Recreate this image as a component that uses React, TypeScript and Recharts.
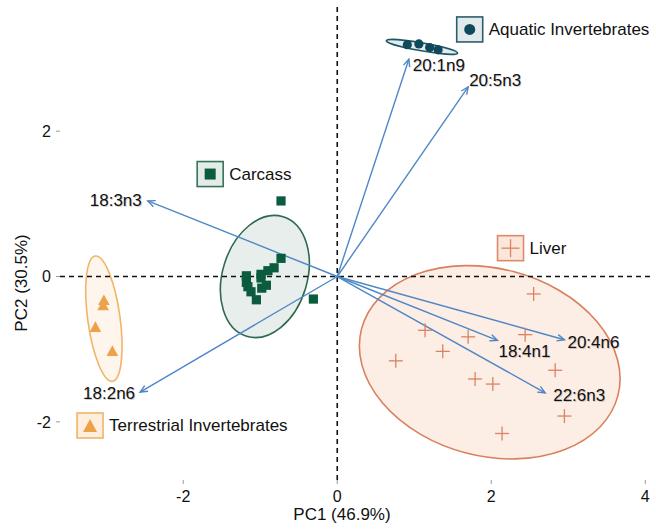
import React from 'react';
import { ScatterChart, Scatter, XAxis, YAxis, ReferenceLine, ReferenceDot } from 'recharts';

// ---------- data ----------
const xTicks = [-2, 0, 2, 4];
const yTicks = [-2, 0, 2];
const xTitle = 'PC1 (46.9%)';
const yTitle = 'PC2 (30.5%)';

const aquatic = [
  { x: 0.91, y: 3.19 },
  { x: 1.06, y: 3.2 },
  { x: 1.2, y: 3.15 },
  { x: 1.31, y: 3.12 },
];

const carcass = [
  { x: -0.73, y: 1.04 },
  { x: -0.73, y: 0.25 },
  { x: -0.82, y: 0.12 },
  { x: -0.9, y: 0.08 },
  { x: -0.99, y: 0.03 },
  { x: -0.99, y: -0.02 },
  { x: -1.18, y: 0.01 },
  { x: -1.18, y: -0.08 },
  { x: -1.16, y: -0.14 },
  { x: -1.12, y: -0.21 },
  { x: -1.05, y: -0.32 },
  { x: -0.98, y: -0.16 },
  { x: -0.92, y: -0.12 },
  { x: -0.31, y: -0.31 },
];

const liver = [
  { x: 2.55, y: -0.24 },
  { x: 1.14, y: -0.74 },
  { x: 1.7, y: -0.83 },
  { x: 2.44, y: -0.8 },
  { x: 1.37, y: -1.03 },
  { x: 0.76, y: -1.16 },
  { x: 2.83, y: -1.29 },
  { x: 1.79, y: -1.41 },
  { x: 2.02, y: -1.48 },
  { x: 2.95, y: -1.92 },
  { x: 2.14, y: -2.16 },
];

const terrestrial = [
  { x: -3.03, y: -0.32 },
  { x: -3.04, y: -0.39 },
  { x: -3.14, y: -0.69 },
  { x: -2.92, y: -1.02 },
];

// confidence ellipses: centre, semi-axes (data units), rotation (deg)
const ellipses = [
  { group: 'liver', x: 1.98, y: -1.18, rx: 1.72, ry: 1.29, angle: 14.6 },
  { group: 'carcass', x: -0.94, y: 0.0, rx: 0.55, ry: 0.86, angle: 17 },
  { group: 'terrestrial', x: -3.03, y: -0.58, rx: 0.21, ry: 0.87, angle: -7.8 },
  { group: 'aquatic', x: 1.1, y: 3.16, rx: 0.47, ry: 0.055, angle: 10 },
];

// variable loadings (arrow tips)
const loadings = [
  { name: '18:3n3', x: -2.46, y: 1.04 },
  { name: '18:2n6', x: -2.56, y: -1.59 },
  { name: '20:1n9', x: 0.93, y: 2.99 },
  { name: '20:5n3', x: 1.7, y: 2.61 },
  { name: '20:4n6', x: 2.95, y: -0.87 },
  { name: '18:4n1', x: 2.08, y: -0.88 },
  { name: '22:6n3', x: 2.7, y: -1.6 },
];

const groupNames = {
  aquatic: 'Aquatic Invertebrates',
  carcass: 'Carcass',
  liver: 'Liver',
  terrestrial: 'Terrestrial Invertebrates',
};

// ---------- layout / style ----------
const W = 656;
const H = 531;
const MARGIN = { top: 4, right: 3, bottom: 21, left: 0 };
const Y_AXIS_W = 60;
const X_AXIS_H = 30;
const X_DOMAIN: [number, number] = [-3.6, 4.1];
const Y_DOMAIN: [number, number] = [-2.8, 3.75];
const KX = (W - MARGIN.left - MARGIN.right - Y_AXIS_W) / (X_DOMAIN[1] - X_DOMAIN[0]);
const KY = (H - MARGIN.top - MARGIN.bottom - X_AXIS_H) / (Y_DOMAIN[1] - Y_DOMAIN[0]);
const FONT = '"Liberation Sans", Arial, Helvetica, sans-serif';

const ARROW = '#4f87c6';

const styles: Record<string, any> = {
  aquatic: { fill: '#e3eaec', stroke: '#1d5767', point: '#0e4a5b', boxFill: '#e2eaec', boxStroke: '#2b5e6c' },
  carcass: { fill: '#e8eeeb', stroke: '#2e6a50', point: '#0b5b3f', boxFill: '#e3ece8', boxStroke: '#3a7258' },
  liver: { fill: '#fcede5', stroke: '#d9805e', point: '#dc8262', boxFill: '#fbe6dc', boxStroke: '#db8a6a' },
  terrestrial: { fill: '#fef5ec', stroke: '#f2b469', point: '#eda24a', boxFill: '#fdeedd', boxStroke: '#f1b36a' },
};

// legend box anchor (data coords of box centre)
const legendAnchors = [
  { group: 'aquatic', x: 1.72, y: 3.4 },
  { group: 'carcass', x: -1.65, y: 1.41 },
  { group: 'liver', x: 2.25, y: 0.39 },
  { group: 'terrestrial', x: -3.21, y: -2.05 },
];

// label placement relative to arrow tip (px)
const labelLayout: Record<string, { dx: number; dy: number; anchor: string }> = {
  '18:3n3': { dx: -6, dy: 5, anchor: 'end' },
  '18:2n6': { dx: -5, dy: 7, anchor: 'end' },
  '20:1n9': { dx: 4, dy: 12, anchor: 'start' },
  '20:5n3': { dx: 1, dy: -1, anchor: 'start' },
  '20:4n6': { dx: 3, dy: 8.5, anchor: 'start' },
  '18:4n1': { dx: 1, dy: 16.5, anchor: 'start' },
  '22:6n3': { dx: 8, dy: 8, anchor: 'start' },
};

// ---------- shapes ----------
const ellipseShape = (p: any) => {
  const e = p.payload;
  const s = styles[e.group];
  if (p.cx == null || p.cy == null) return <g />;
  return (
    <ellipse
      cx={p.cx}
      cy={p.cy}
      rx={e.rx * KX}
      ry={e.ry * KY}
      transform={`rotate(${e.angle} ${p.cx} ${p.cy})`}
      fill={s.fill}
      stroke={s.stroke}
      strokeWidth={1.6}
    />
  );
};

const markerFor = (group: string, cx: number, cy: number, big = false) => {
  const s = styles[group];
  if (group === 'aquatic') return <circle cx={cx} cy={cy} r={big ? 5.5 : 4.6} fill={s.point} />;
  if (group === 'carcass') {
    const h = big ? 5.5 : 4.6;
    return <rect x={cx - h} y={cy - h} width={2 * h} height={2 * h} fill={s.point} />;
  }
  if (group === 'liver') {
    const h = big ? 9 : 7;
    return (
      <g stroke={s.point} strokeWidth={1.3}>
        <line x1={cx - h} y1={cy} x2={cx + h} y2={cy} />
        <line x1={cx} y1={cy - h} x2={cx} y2={cy + h} />
      </g>
    );
  }
  const w = big ? 7 : 5.8;
  const hh = big ? 6.5 : 5.3;
  return (
    <polygon
      points={`${cx},${cy - hh} ${cx + w},${cy + hh} ${cx - w},${cy + hh}`}
      fill={s.point}
    />
  );
};

const pointShape = (group: string) => (p: any) => {
  if (p.cx == null || p.cy == null) return <g />;
  return markerFor(group, p.cx, p.cy);
};

const arrowShape = (name: string) => (p: any) => {
  const { x1, y1, x2, y2 } = p;
  if ([x1, y1, x2, y2].some((v) => v == null || isNaN(v))) return <g />;
  const ang = Math.atan2(y2 - y1, x2 - x1);
  const L = 8;
  const A = 0.42;
  const ax = x2 - L * Math.cos(ang - A);
  const ay = y2 - L * Math.sin(ang - A);
  const bx = x2 - L * Math.cos(ang + A);
  const by = y2 - L * Math.sin(ang + A);
  const lay = labelLayout[name];
  return (
    <g>
      <line x1={x1} y1={y1} x2={x2} y2={y2} stroke={ARROW} strokeWidth={1.4} />
      <polyline
        points={`${ax},${ay} ${x2},${y2} ${bx},${by}`}
        fill="none"
        stroke={ARROW}
        strokeWidth={1.4}
      />
      <text
        x={x2 + lay.dx + 0.8}
        y={y2 + lay.dy + 0.8}
        textAnchor={lay.anchor as any}
        fontSize={17}
        fontFamily={FONT}
        fill="#000"
        opacity={0.18}
      >
        {name}
      </text>
      <text
        x={x2 + lay.dx}
        y={y2 + lay.dy}
        textAnchor={lay.anchor as any}
        fontSize={17}
        fontFamily={FONT}
        fill="#111"
      >
        {name}
      </text>
    </g>
  );
};

const legendShape = (group: string) => (p: any) => {
  const { cx, cy } = p;
  if (cx == null || cy == null) return <g />;
  const s = styles[group];
  const bw = 26;
  const bh = 25;
  return (
    <g>
      <rect
        x={cx - bw / 2}
        y={cy - bh / 2}
        width={bw}
        height={bh}
        fill={s.boxFill}
        stroke={s.boxStroke}
        strokeWidth={1.6}
      />
      {markerFor(group, cx, cy, true)}
      <text
        x={cx + bw / 2 + 6}
        y={cy + 6}
        fontSize={17}
        fontFamily={FONT}
        fill="#111"
      >
        {(groupNames as any)[group]}
      </text>
    </g>
  );
};

const tickStyle = { fontSize: 16, fill: '#111', fontFamily: FONT };

export default function App() {
  return (
    <div style={{ position: 'absolute', left: 0, top: 0, width: W, height: H, background: '#fff', fontFamily: FONT }}>
      <ScatterChart width={W} height={H} margin={MARGIN}>
        <XAxis
          type="number"
          dataKey="x"
          domain={X_DOMAIN}
          ticks={xTicks}
          allowDataOverflow
          axisLine={false}
          tickLine={{ stroke: '#999', strokeWidth: 1 }}
          tickSize={4}
          tickMargin={7}
          tick={tickStyle}
          height={X_AXIS_H}
          label={{
            content: () => (
              <text x={342} y={520} textAnchor="middle" fontSize={17} fontFamily={FONT} fill="#111">
                {xTitle}
              </text>
            ),
          }}
        />
        <YAxis
          type="number"
          dataKey="y"
          domain={Y_DOMAIN}
          ticks={yTicks}
          allowDataOverflow
          axisLine={false}
          tickLine={{ stroke: '#999', strokeWidth: 1 }}
          tickSize={4}
          tickMargin={5}
          tick={tickStyle}
          width={Y_AXIS_W}
          label={{
            content: () => (
              <text
                x={27}
                y={283}
                textAnchor="middle"
                fontSize={17}
                fontFamily={FONT}
                fill="#111"
                transform="rotate(-90 27 283)"
              >
                {yTitle}
              </text>
            ),
          }}
        />
        <Scatter
          name="ellipses"
          data={ellipses}
          shape={ellipseShape}
          isAnimationActive={false}
          zIndex={100}
        />
        <ReferenceLine x={0} stroke="#111" strokeWidth={1.6} strokeDasharray="5 4" zIndex={200} />
        <ReferenceLine y={0} stroke="#111" strokeWidth={1.6} strokeDasharray="5 4" zIndex={200} />
        {loadings.map((l) => (
          <ReferenceLine
            key={l.name}
            segment={[
              { x: 0, y: 0 },
              { x: l.x, y: l.y },
            ]}
            ifOverflow="visible"
            shape={arrowShape(l.name)}
            zIndex={300}
          />
        ))}
        <Scatter name="Terrestrial Invertebrates" data={terrestrial} shape={pointShape('terrestrial')} isAnimationActive={false} zIndex={600} />
        <Scatter name="Carcass" data={carcass} shape={pointShape('carcass')} isAnimationActive={false} zIndex={600} />
        <Scatter name="Liver" data={liver} shape={pointShape('liver')} isAnimationActive={false} zIndex={600} />
        <Scatter name="Aquatic Invertebrates" data={aquatic} shape={pointShape('aquatic')} isAnimationActive={false} zIndex={600} />
        {legendAnchors.map((a) => (
          <ReferenceDot
            key={a.group}
            x={a.x}
            y={a.y}
            r={1}
            ifOverflow="visible"
            shape={legendShape(a.group)}
            zIndex={700}
          />
        ))}
      </ScatterChart>
    </div>
  );
}
